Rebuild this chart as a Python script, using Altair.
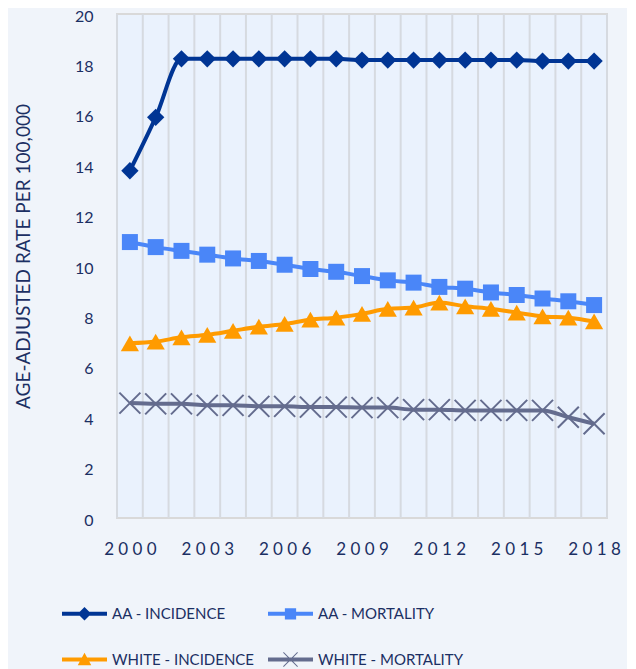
import altair as alt
import pandas as pd

years = list(range(2000, 2019))
aa_inc = [13.78, 15.9, 18.22, 18.22, 18.22, 18.22, 18.22, 18.22, 18.22, 18.17, 18.17, 18.17,
          18.17, 18.17, 18.17, 18.17, 18.13, 18.13, 18.13]
aa_mort = [10.95, 10.75, 10.6, 10.45, 10.3, 10.2, 10.05, 9.88, 9.77, 9.6, 9.43, 9.34,
           9.17, 9.1, 8.95, 8.85, 8.71, 8.6, 8.45]
wh_inc = [6.93, 7.0, 7.17, 7.27, 7.43, 7.59, 7.7, 7.87, 7.95, 8.1, 8.3, 8.35,
          8.55, 8.4, 8.3, 8.15, 8.0, 7.95, 7.8]
wh_mort = [4.56, 4.53, 4.53, 4.47, 4.47, 4.43, 4.43, 4.4, 4.4, 4.38, 4.38, 4.3,
           4.3, 4.27, 4.27, 4.27, 4.27, 4.0, 3.74]

series_names = ["AA - Incidence", "AA - Mortality", "White - Incidence", "White - Mortality"]
series_colors = ["#003594", "#4A86F8", "#FF9B00", "#646C8E"]
y_ticks = [0, 2, 4, 6, 8, 10, 12, 14, 16, 18, 20]
x_ticks = [2000, 2003, 2006, 2009, 2012, 2015, 2018]

TEXT = "#1B2F63"
FONT = "Lato"

rows = []
for name, vals in zip(series_names, [aa_inc, aa_mort, wh_inc, wh_mort]):
    for yr, v in zip(years, vals):
        rows.append({"year": yr, "series": name, "value": v})
df = pd.DataFrame(rows)

grid_df = pd.DataFrame({"edge": [y - 0.5 for y in years] + [years[-1] + 0.5]})

x_scale = alt.Scale(domain=[1999.5, 2018.5], nice=False, zero=False)
y_scale = alt.Scale(domain=[0, 20], nice=False)

x_axis = alt.Axis(values=x_ticks, format="d",
                  labelExpr="join(split(toString(datum.value), ''), ' ')",
                  grid=False, ticks=False, domain=False, labelPadding=23,
                  labelFontSize=17, labelColor=TEXT, labelFont=FONT)
y_axis = alt.Axis(values=y_ticks, grid=False, ticks=False, domain=False,
                  labelPadding=24, labelFontSize=16, labelOffset=2,
                  labelColor=TEXT, labelFont=FONT,
                  title="AGE-ADJUSTED RATE PER 100,000", titleX=-94, titleY=242,
                  titleAlign="center", titleBaseline="middle", titleFontSize=19,
                  titleFontWeight="normal", titleColor=TEXT, titleFont=FONT)

X = alt.X("year:Q", scale=x_scale, axis=x_axis, title=None)
Y = alt.Y("value:Q", scale=y_scale, axis=y_axis)

grid = alt.Chart(grid_df).mark_rule(color="#D6DAE0", strokeWidth=2).encode(
    x=alt.X("edge:Q", scale=x_scale, axis=x_axis, title=None)
)

base = alt.Chart(df)


def series_layers(name, color, **kw):
    sub = base.transform_filter(alt.datum.series == name)
    ln = sub.mark_line(strokeWidth=4, interpolate="monotone", color=color).encode(x=X, y=Y)
    pt = sub.mark_point(opacity=1, color=color, **kw).encode(x=X, y=Y)
    return [ln, pt]


layers = [grid]
layers += series_layers(series_names[0], series_colors[0], shape="diamond", filled=True, size=300)
layers += series_layers(series_names[1], series_colors[1], shape="square", filled=True, size=256)
layers += series_layers(series_names[2], series_colors[2], shape="triangle-up", filled=True, size=330)
layers += series_layers(series_names[3], series_colors[3], shape="M-1,-1L1,1M-1,1L1,-1",
                        filled=False, size=441, strokeWidth=2)

line_seg = "M-1,-0.09H1V0.09H-1Z"
legend_paths = [
    line_seg + "M0,-0.3L0.3,0L0,0.3L-0.3,0Z",
    line_seg + "M-0.25,-0.25H0.25V0.25H-0.25Z",
    line_seg + "M0,-0.3L0.3,0.25H-0.3Z",
    line_seg + "M-0.3,-0.33L0.33,0.3L0.3,0.33L-0.33,-0.3ZM-0.3,0.33L-0.33,0.3L0.3,-0.33L0.33,-0.3Z",
]

# legend fills column by column: order so that rows read AA / White
leg_order = [0, 2, 1, 3]
leg_domain = [series_names[i] for i in leg_order]
leg_colors = [series_colors[i] for i in leg_order]
leg_shapes = [legend_paths[i] for i in leg_order]

leg = alt.Legend(title=None, orient="none", legendX=-55, legendY=577, columns=2,
                 symbolSize=2025, symbolStrokeWidth=0, symbolOpacity=1,
                 labelFontSize=15, labelColor=TEXT, labelFont=FONT, labelOffset=5,
                 columnPadding=13, rowPadding=15, padding=0,
                 labelExpr="upper(datum.label)")

legend_layer = base.mark_point(filled=True, opacity=0).encode(
    x=X, y=Y,
    color=alt.Color("series:N", scale=alt.Scale(domain=leg_domain, range=leg_colors), legend=leg),
    shape=alt.Shape("series:N", scale=alt.Scale(domain=leg_domain, range=leg_shapes), legend=leg),
)
layers.append(legend_layer)

chart = alt.layer(*layers).properties(
    width=490, height=504,
    autosize=alt.AutoSizeParams(type="none"),
    padding={"left": 109, "top": 6, "right": 20, "bottom": 162},
    background="#F0F4FA",
).configure_view(fill="#EAF2FD", stroke="#D9D9D9", strokeWidth=2)

chart.save("out.html", embed_options={"renderer": "svg", "actions": False})
